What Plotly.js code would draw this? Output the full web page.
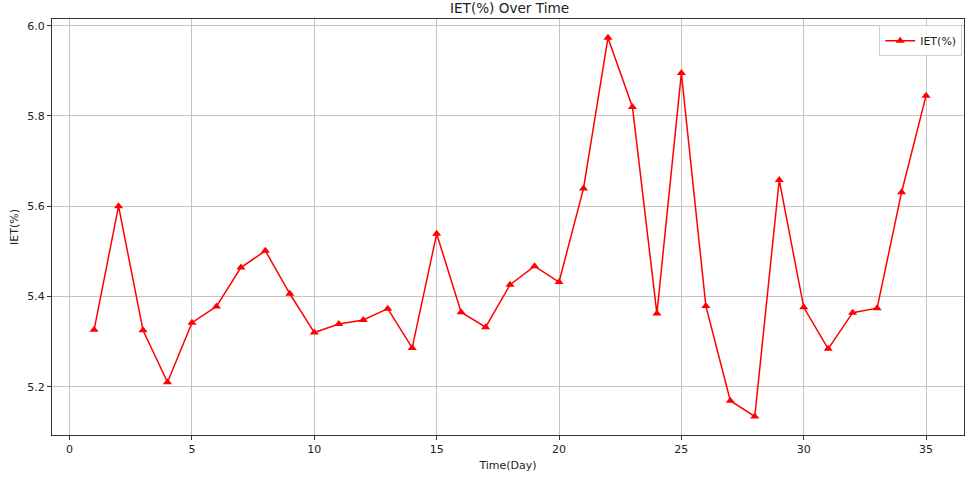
<!DOCTYPE html>
<html>
<head>
<meta charset="utf-8">
<script src="https://cdn.plot.ly/plotly-3.0.1.min.js"></script>
<style>html,body{margin:0;padding:0;background:#fff;}#chart{width:965px;height:477px;}</style>
</head>
<body>
<div id="chart"></div>
<script>
var days = [1,2,3,4,5,6,7,8,9,10,11,12,13,14,15,16,17,18,19,20,21,22,23,24,25,26,27,28,29,30,31,32,33,34,35];
var iet = [5.326,5.600,5.325,5.210,5.342,5.378,5.464,5.501,5.406,5.320,5.339,5.348,5.373,5.286,5.539,5.365,5.332,5.426,5.467,5.432,5.639,5.973,5.820,5.362,5.895,5.379,5.169,5.134,5.658,5.376,5.284,5.364,5.374,5.631,5.845];
var xTicks = [0,5,10,15,20,25,30,35];
var yTicks = [5.2,5.4,5.6,5.8,6.0];
var yTickText = ['5.2','5.4','5.6','5.8','6.0'];

var trace = {
  x: days, y: iet, type: 'scatter', mode: 'lines+markers', name: 'IET(%)',
  line: {color: '#ff0000', width: 1.5},
  marker: {symbol: 'triangle-up', size: 8, color: '#ff0000'}
};
var font = {family: 'DejaVu Sans, sans-serif', size: 11, color: '#222'};
var layout = {
  width: 965, height: 477,
  margin: {l: 52, r: 1, t: 19, b: 42, pad: 0},
  paper_bgcolor: '#fff', plot_bgcolor: '#fff',
  font: font,
  title: {text: 'IET(%) Over Time', x: 0.528, xanchor: 'center', y: 0.983, yanchor: 'middle', font: {family: 'DejaVu Sans, sans-serif', size: 13.6, color: '#222'}},
  xaxis: {
    range: [-0.72, 36.55], tickvals: xTicks, ticks: 'outside', ticklen: 4, tickcolor: '#333',
    showgrid: true, gridcolor: '#c4c4c4', gridwidth: 1, zeroline: false,
    showline: true, linecolor: '#333', linewidth: 1, mirror: true,
    title: {text: 'Time(Day)', font: font, standoff: 6}, tickfont: font
  },
  yaxis: {
    range: [5.093, 6.0148], tickvals: yTicks, ticktext: yTickText, ticks: 'outside', ticklen: 4, tickcolor: '#333',
    showgrid: true, gridcolor: '#c4c4c4', gridwidth: 1, zeroline: false,
    showline: true, linecolor: '#333', linewidth: 1, mirror: true,
    title: {text: 'IET(%)', font: font, standoff: 6}, tickfont: font
  },
  showlegend: true,
  legend: {x: 0.998, y: 0.985, xanchor: 'right', yanchor: 'top', itemwidth: 30, bgcolor: 'rgba(255,255,255,0.8)', bordercolor: '#d0d0d0', borderwidth: 1, font: font}
};
Plotly.newPlot('chart', [trace], layout, {displayModeBar: false, staticPlot: true});
</script>
</body>
</html>
